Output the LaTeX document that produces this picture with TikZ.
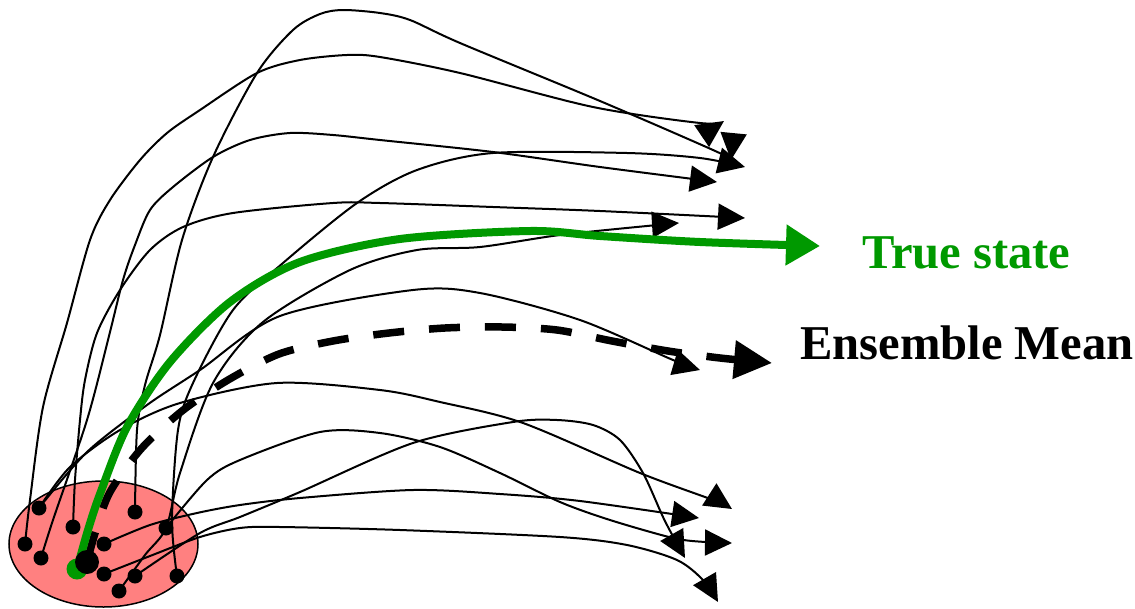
\documentclass[tikz,border=0pt]{standalone}
\usepackage{fontspec}
\setmainfont{Liberation Serif}
\usetikzlibrary{arrows.meta,shapes.geometric}
\definecolor{truegreen}{RGB}{0,153,0}
\definecolor{ensred}{RGB}{255,128,128}
\tikzset{
  traj/.style={line width=2pt, line join=round, -{Triangle[length=27pt,width=26pt]}},
  truepath/.style={truegreen, line width=8pt, -{Triangle[length=34pt,width=39pt]}},
  meanpath/.style={black, line width=7.5pt, dash pattern=on 31pt off 25pt, -{Triangle[length=38pt,width=37pt]}},
  member/.style={circle, fill=black, inner sep=0pt, minimum size=15pt},
  bigmember/.style={circle, fill=black, inner sep=0pt, minimum size=24pt},
  truedot/.style={circle, fill=truegreen, inner sep=0pt, minimum size=21pt},
  ensemble/.style={ellipse, draw=black, line width=1.5pt, fill=ensred, inner sep=0pt, minimum width=189pt, minimum height=126pt},
  lbl/.style={anchor=base west, inner sep=0pt, font=\fontsize{48.6}{58}\selectfont\bfseries}
}
\begin{document}
\begin{tikzpicture}[x=1pt,y=-1pt]
\useasboundingbox (0,0) rectangle (1135,608);
\node[ensemble] (ens) at (103.5,544) {};
% member positions
\coordinate (d1) at (39,508);
\coordinate (d2) at (73,527);
\coordinate (d3) at (25,544);
\coordinate (d4) at (41,558);
\coordinate (d5) at (135,512);
\coordinate (d6) at (166,528);
\coordinate (d7) at (104,544);
\coordinate (d8) at (104,574);
\coordinate (d9) at (135,576);
\coordinate (d10) at (119,591);
\coordinate (d11) at (177,576);
\coordinate (dbig) at (87,562);
\coordinate (dg) at (77,569);
% arrow ends
\coordinate (a1) at (724,121);
\coordinate (a2) at (731,160);
\coordinate (a3) at (717,182);
\coordinate (a4) at (745,218);
\coordinate (a5) at (679,223);
\coordinate (a6) at (745,167);
\coordinate (c1) at (700,370);
\coordinate (b1) at (732,509);
\coordinate (b2) at (699,518);
\coordinate (b3) at (685,558);
\coordinate (b4) at (718,602);
\coordinate (b5) at (732,543);
\coordinate (gt) at (820,246);
\coordinate (mt) at (772,363);
% thin trajectories
\draw[traj] plot[smooth] coordinates {(d3) (30,500) (43,407) (67,323) (90,240) (110,200) (140,160) (167,133) (200,110) (257,73) (300,60) (347,55) (380,57) (460,73) (593,107) (700,123) (a1)};
\draw[traj] plot[smooth] coordinates {(d5) (137,430) (145,385) (160,335) (182,240) (213,157) (257,73) (293,30) (320,14) (343,10) (380,13) (410,20) (460,43) (600,101) (713,150) (a2)};
\draw[traj] plot[smooth] coordinates {(d4) (53,520) (87,420) (108,340) (123,280) (135,245) (150,210) (173,187) (213,157) (250,140) (290,133) (333,135) (380,140) (493,152) (600,167) (a3)};
\draw[traj] plot[smooth] coordinates {(d2) (75,480) (80,420) (85,380) (97,333) (120,290) (150,250) (183,227) (233,213) (333,203) (380,203) (493,207) (600,211) (a4)};
\draw[traj] plot[smooth] coordinates {(d11) (172,520) (178,430) (193,383) (233,310) (283,263) (357,203) (417,170) (493,153) (627,153) (700,158) (a6)};
\draw[traj] plot[smooth] coordinates {(d10) (145,555) (d6) (180,473) (213,383) (263,322) (350,270) (417,250) (480,247) (560,235) (657,225) (a5)};
\draw[traj] plot[smooth] coordinates {(d6) (207,480) (240,460) (320,432) (380,433) (440,447) (500,473) (560,502) (610,520) (673,538) (705,542) (b5)};
\draw[traj] plot[smooth] coordinates {(d1) (70,467) (120,430) (180,403) (277,383) (380,390) (440,402) (523,423) (640,473) (713,500) (b1)};
\draw[traj] plot[smooth] coordinates {(d1) (87,452) (147,405) (200,370) (280,316) (413,290) (480,293) (580,320) (673,360) (c1)};
\draw[traj] plot[smooth] coordinates {(d7) (150,525) (197,513) (240,505) (300,498) (413,490) (500,494) (580,501) (b2)};
\draw[traj] plot[smooth] coordinates {(d8) (150,556) (200,537) (240,528) (280,527) (400,530) (560,537) (627,545) (677,560) (703,580) (b4)};
\draw[traj] plot[smooth] coordinates {(d9) (200,533) (240,517) (300,492) (413,443) (513,422) (557,420) (593,425) (620,440) (643,473) (663,517) (675,540) (b3)};
% ensemble mean
\draw[meanpath] plot[smooth] coordinates {(dbig) (96,530) (110,492) (141,449) (182,411) (228,380) (279,354) (333,341) (389,333) (445,328) (502,327) (557,330) (612,341) (668,351) (720,358) (mt)};
% true state
\draw[truepath] plot[smooth] coordinates {(dg) (88,530) (100,494) (127,427) (170,362) (230,302) (300,262) (400,239) (530,231) (600,236) (700,242) (gt)};
% dots
\node[truedot] (g0) at (dg) {};
\foreach \n in {d1,d2,d3,d4,d5,d6,d7,d8,d9,d10,d11} \node[member] (m\n) at (\n) {};
\node[bigmember] (mbig) at (dbig) {};
% labels
\node[lbl, text=truegreen] (tslabel) at (862,268) {True state};
\node[lbl, text=black] (emlabel) at (800,359) {Ensemble Mean};
\end{tikzpicture}
\end{document}
